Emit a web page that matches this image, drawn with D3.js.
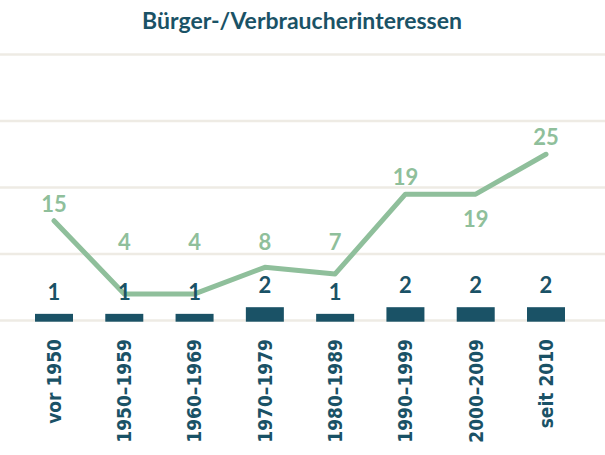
<!DOCTYPE html>
<html>
<head>
<meta charset="utf-8">
<script src="https://cdn.jsdelivr.net/npm/d3@7"></script>
<style>
  body { margin: 0; background: #fff; }
</style>
</head>
<body>
<div id="chart"></div>
<script>
// data
var categories = ["vor 1950", "1950–1959", "1960–1969", "1970–1979", "1980–1989", "1990–1999", "2000–2009", "seit 2010"];
var lineValues = [15, 4, 4, 8, 7, 19, 19, 25];
var barValues = [1, 1, 1, 2, 1, 2, 2, 2];
var gridTicks = [0, 10, 20, 30, 40];
var title = "Bürger-/Verbraucherinteressen";

var width = 605, height = 455;
var dark = "#1a5266", green = "#8fbf9b", grid = "#eeebe4";

var svg = d3.select("#chart")
  .append("svg")
    .attr("width", width)
    .attr("height", height);

var x = d3.scalePoint()
  .domain(categories)
  .range([54, 546]);
var barW = 38;

var y = d3.scaleLinear()
  .domain([0, 40])
  .range([320.5, 54.5]);

// title
svg.append("text")
  .attr("x", 302)
  .attr("y", 29)
  .attr("text-anchor", "middle")
  .attr("fill", dark)
  .style("font-family", "Lato")
  .style("font-weight", 700)
  .style("font-size", "23px")
  .text(title);

// gridlines
svg.selectAll(".grid")
  .data(gridTicks)
  .enter().append("line")
    .attr("x1", 0)
    .attr("x2", width)
    .attr("y1", d => y(d))
    .attr("y2", d => y(d))
    .attr("stroke", grid)
    .attr("stroke-width", 2.5);

// bars
svg.selectAll(".bar")
  .data(barValues)
  .enter().append("rect")
    .attr("x", (d, i) => x(categories[i]) - barW / 2)
    .attr("y", d => y(d))
    .attr("width", barW)
    .attr("height", d => y(0) - y(d) + 1.2)
    .attr("fill", dark);

// line
var line = d3.line()
  .x((d, i) => x(categories[i]))
  .y(d => y(d));

svg.append("path")
  .datum(lineValues)
  .attr("d", line)
  .attr("fill", "none")
  .attr("stroke", green)
  .attr("stroke-width", 5)
  .attr("stroke-linecap", "round")
  .attr("stroke-linejoin", "round");

// line labels: above the point, kept clear of the bar labels; one sits below
var below = ["2000–2009"];
svg.selectAll(".lineLabel")
  .data(lineValues)
  .enter().append("text")
    .attr("x", (d, i) => x(categories[i]))
    .attr("y", (d, i) => below.indexOf(categories[i]) >= 0 ? y(d) + 33 : Math.min(y(d) - 9, 250))
    .attr("text-anchor", "middle")
    .attr("fill", green)
    .style("font-family", "Lato")
    .style("font-weight", 700)
    .style("font-size", "22px")
    .text(d => d);

// bar labels
svg.selectAll(".barLabel")
  .data(barValues)
  .enter().append("text")
    .attr("x", (d, i) => x(categories[i]))
    .attr("y", d => y(d) - 14)
    .attr("text-anchor", "middle")
    .attr("fill", dark)
    .style("font-family", "Lato")
    .style("font-weight", 700)
    .style("font-size", "22px")
    .text(d => d);

// category labels, rotated
svg.selectAll(".catLabel")
  .data(categories)
  .enter().append("text")
    .attr("transform", d => "translate(" + x(d) + ",339) rotate(-90)")
    .attr("dy", "0.36em")
    .attr("text-anchor", "end")
    .attr("fill", dark)
    .style("font-family", "DejaVu Sans Condensed")
    .style("font-weight", 700)
    .style("font-size", "19px")
    .text(d => d);
</script>
</body>
</html>
